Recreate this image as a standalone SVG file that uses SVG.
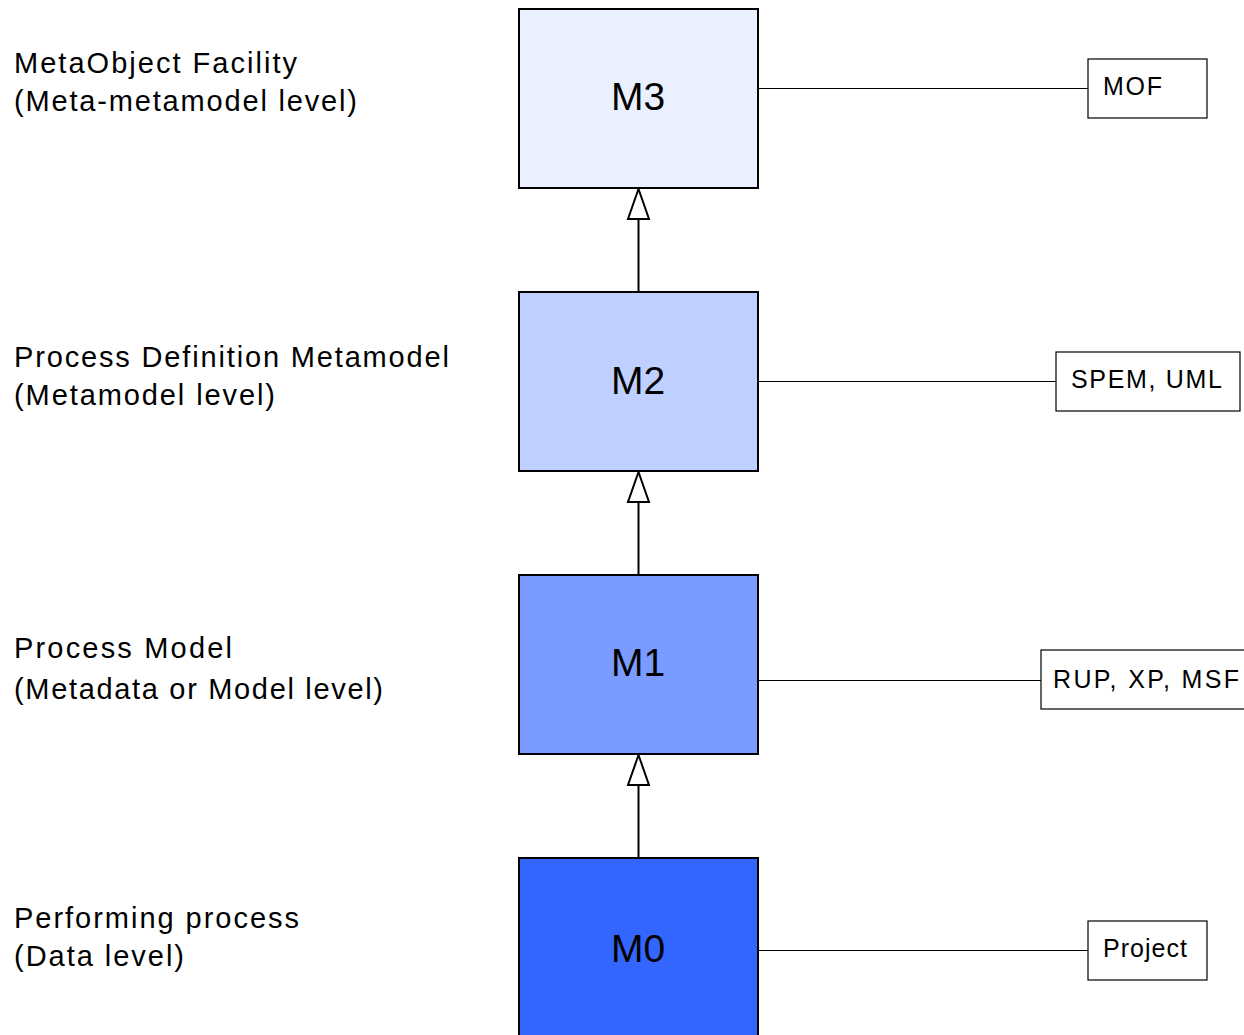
<svg xmlns="http://www.w3.org/2000/svg" width="1244" height="1035" viewBox="0 0 1244 1035">
  <style>
    .lvl { stroke: #000; stroke-width: 2; }
    .tag { fill: #fff; stroke: #000; stroke-width: 1.2; }
    .lvl-text { font-family: "Liberation Sans", Arial, sans-serif; font-size: 39px; fill: #000; text-anchor: middle; }
    .tag-text { font-family: "Liberation Sans", Arial, sans-serif; font-size: 25px; fill: #000; }
    .side { font-family: "Liberation Sans", Arial, sans-serif; font-size: 29px; fill: #000; }
    .link { stroke: #000; stroke-width: 1.2; fill: none; }
    .gen { stroke: #000; stroke-width: 2; fill: none; }
    .head { fill: #fff; stroke: #000; stroke-width: 2; stroke-linejoin: miter; }
  </style>
  <rect width="1244" height="1035" fill="#fff"/>

  <!-- level descriptions -->
  <g id="desc-m3">
    <text class="side" x="14" y="73" textLength="283" lengthAdjust="spacing">MetaObject Facility</text>
    <text class="side" x="14" y="111" textLength="343" lengthAdjust="spacing">(Meta-metamodel level)</text>
  </g>
  <g id="desc-m2">
    <text class="side" x="14" y="367" textLength="435" lengthAdjust="spacing">Process Definition Metamodel</text>
    <text class="side" x="14" y="405" textLength="261" lengthAdjust="spacing">(Metamodel level)</text>
  </g>
  <g id="desc-m1">
    <text class="side" x="14" y="658" textLength="218" lengthAdjust="spacing">Process Model</text>
    <text class="side" x="14" y="699" textLength="369" lengthAdjust="spacing">(Metadata or Model level)</text>
  </g>
  <g id="desc-m0">
    <text class="side" x="14" y="928" textLength="285" lengthAdjust="spacing">Performing process</text>
    <text class="side" x="14" y="966" textLength="170" lengthAdjust="spacing">(Data level)</text>
  </g>

  <!-- connectors: generalisation arrows between levels, plain links to examples -->
  <g id="connectors">
    <line class="gen" x1="638.5" y1="292" x2="638.5" y2="219"/>
    <polygon class="head" points="638.5,189 649,219 628,219"/>
    <line class="gen" x1="638.5" y1="575" x2="638.5" y2="502"/>
    <polygon class="head" points="638.5,472 649,502 628,502"/>
    <line class="gen" x1="638.5" y1="858" x2="638.5" y2="785"/>
    <polygon class="head" points="638.5,755 649,785 628,785"/>
    <line class="link" x1="758" y1="88.5" x2="1088" y2="88.5"/>
    <line class="link" x1="758" y1="381.5" x2="1056" y2="381.5"/>
    <line class="link" x1="758" y1="680.5" x2="1041" y2="680.5"/>
    <line class="link" x1="758" y1="950.5" x2="1088" y2="950.5"/>
  </g>

  <!-- metamodel levels -->
  <g id="m3">
    <rect class="lvl" x="519" y="9" width="239" height="179" fill="#eaf0ff"/>
    <text class="lvl-text" x="638" y="110">M3</text>
  </g>
  <g id="m2">
    <rect class="lvl" x="519" y="292" width="239" height="179" fill="#bfcfff"/>
    <text class="lvl-text" x="638" y="394">M2</text>
  </g>
  <g id="m1">
    <rect class="lvl" x="519" y="575" width="239" height="179" fill="#7a9bff"/>
    <text class="lvl-text" x="638" y="676">M1</text>
  </g>
  <g id="m0">
    <rect class="lvl" x="519" y="858" width="239" height="190" fill="#3366ff"/>
    <text class="lvl-text" x="638" y="962">M0</text>
  </g>

  <!-- examples per level -->
  <g id="mof">
    <rect class="tag" x="1088" y="59" width="119" height="59"/>
    <text class="tag-text" x="1103" y="95" textLength="59" lengthAdjust="spacing">MOF</text>
  </g>
  <g id="spem-uml">
    <rect class="tag" x="1056" y="352" width="184" height="59"/>
    <text class="tag-text" x="1071" y="388" textLength="151" lengthAdjust="spacing">SPEM, UML</text>
  </g>
  <g id="rup-xp-msf">
    <rect class="tag" x="1041" y="650" width="210" height="59"/>
    <text class="tag-text" x="1053" y="688" textLength="186" lengthAdjust="spacing">RUP, XP, MSF</text>
  </g>
  <g id="project">
    <rect class="tag" x="1088" y="921" width="119" height="59"/>
    <text class="tag-text" x="1103" y="957" textLength="84" lengthAdjust="spacing">Project</text>
  </g>
</svg>
